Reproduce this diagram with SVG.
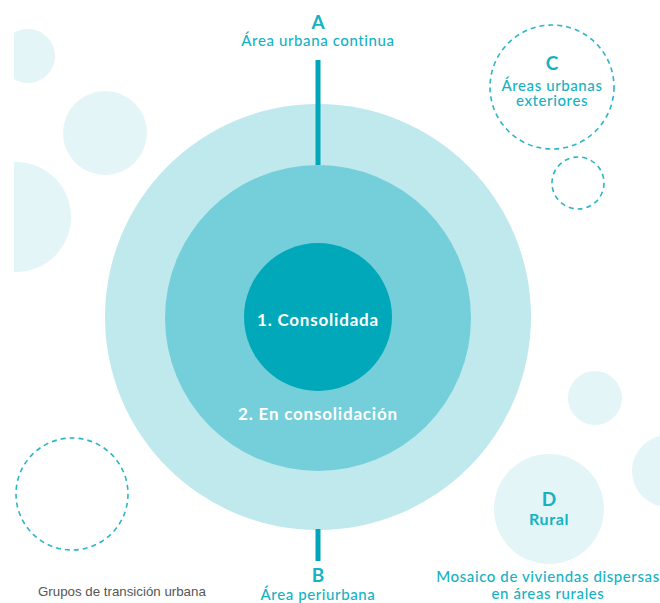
<svg xmlns="http://www.w3.org/2000/svg" width="660" height="603" viewBox="0 0 660 603">
<style>
.bg{fill:#e3f5f7}
.dash{fill:none;stroke:#2bb6c8;stroke-width:1.6;stroke-dasharray:5 4}
.lab{font-family:Lato,"Noto Sans",sans-serif;fill:#16b2c4;font-size:15px;letter-spacing:0.6px;text-anchor:middle;font-weight:500}
.let{font-family:Lato,"Noto Sans",sans-serif;fill:#16b2c4;font-size:19px;text-anchor:middle;font-weight:700}
.wt{font-family:Lato,"Noto Sans",sans-serif;fill:#ffffff;font-size:17px;letter-spacing:0.8px;text-anchor:middle;font-weight:700}
.note{font-family:"Liberation Sans",Arial,sans-serif;fill:#555555;font-size:13.3px}
.conn{stroke:#00a7ba;stroke-width:5}
</style>
<defs>
<clipPath id="clipL"><rect x="14" y="0" width="646" height="603"/></clipPath>
</defs>
<rect width="660" height="603" fill="#ffffff"/>
<g id="decor" clip-path="url(#clipL)">
<circle class="bg" cx="28" cy="56" r="27"/>
<circle class="bg" cx="105" cy="133" r="42"/>
<circle class="bg" cx="16" cy="217" r="55"/>
<circle class="bg" cx="595" cy="398" r="27"/>
<circle class="bg" cx="668" cy="471" r="36"/>
<circle class="dash" cx="72" cy="494" r="56"/>
<circle class="dash" cx="578" cy="183" r="26"/>
</g>
<g id="ring-outer"><circle cx="318" cy="317" r="213" fill="#bfe9ed"/></g>
<g id="ring-middle"><circle cx="318" cy="318" r="153" fill="#74cfda"/>
<text class="wt" x="318" y="420">2. En consolidación</text></g>
<g id="core"><circle cx="318" cy="317" r="74" fill="#00a8b9"/>
<text class="wt" x="318" y="326">1. Consolidada</text></g>
<g id="connectors">
<line class="conn" x1="318" y1="60" x2="318" y2="165"/>
<line class="conn" x1="318" y1="529" x2="318" y2="561"/>
</g>
<g id="node-A">
<text class="let" x="318" y="29">A</text>
<text class="lab" x="318" y="46">Área urbana continua</text>
</g>
<g id="node-B">
<text class="let" x="318" y="582">B</text>
<text class="lab" x="318" y="600">Área periurbana</text>
</g>
<g id="node-C">
<circle class="dash" cx="552" cy="87" r="62"/>
<text class="let" x="552" y="70">C</text>
<text class="lab" x="552" y="91">Áreas urbanas</text>
<text class="lab" x="552" y="106">exteriores</text>
</g>
<g id="node-D">
<circle class="bg" cx="549" cy="509" r="55"/>
<text class="let" x="549" y="506">D</text>
<text class="lab" x="549" y="525" style="font-weight:700;font-size:16px">Rural</text>
<text class="lab" x="548" y="582">Mosaico de viviendas dispersas</text>
<text class="lab" x="548" y="599">en áreas rurales</text>
</g>
<text class="note" x="38" y="596">Grupos de transición urbana</text>
</svg>
